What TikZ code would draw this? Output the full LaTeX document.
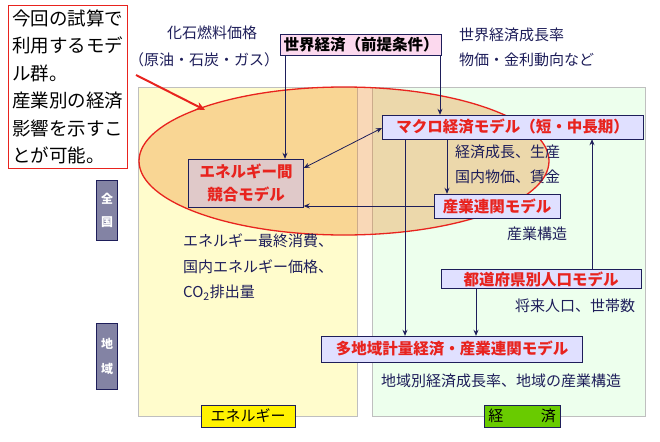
\documentclass[tikz,border=0pt]{standalone}
\usepackage{fontspec}
\setmainfont{Noto Sans CJK JP}
\usetikzlibrary{arrows.meta}
\definecolor{navy}{HTML}{1E1E5A}
\definecolor{mred}{HTML}{E8231E}
\begin{document}
\begin{tikzpicture}[x=1pt,y=-1pt,
  every node/.style={font=\fontsize{15}{17}\selectfont,text=navy,inner sep=1pt},
  lbl/.style={anchor=west},
  model/.style={draw=navy,fill=#1,text=mred,font=\fontsize{15.5}{23}\selectfont\bfseries,inner sep=2pt},
  arr/.style={draw=navy,-{Stealth[length=6pt,width=5pt]},line width=0.8pt},
  side/.style={draw=navy,fill=navy!55,text=white,font=\fontsize{12}{13}\selectfont\bfseries,minimum width=21pt,inner sep=2pt,align=center}]
\useasboundingbox (0,0) rectangle (660,441);
\fill[white] (0,0) rectangle (660,441);
% panels
\draw[gray!50,fill=yellow!20] (138,87) rectangle (357,416);
\draw[gray!50,fill=green!7] (372,87) rectangle (645,416);
% ellipse
\draw[mred,line width=1.3pt,fill=orange!70!brown,fill opacity=0.3] (344,161) ellipse (205 and 74);
% red note
\node[draw=mred,line width=0.8pt,fill=white,text=black,align=left,anchor=north west,inner sep=4pt,font=\fontsize{18.5}{27.5}\selectfont] (note) at (8,5)
{今回の試算で\\利用するモデ\\ル群。\\産業別の経済\\影響を示すこ\\とが可能。};
\coordinate (tip) at (205,110);
\draw[mred,line width=2pt,-{Stealth[length=9pt,width=8pt]}] (136,75) -- (tip);
% top
\node[draw=navy,fill=magenta!15,text=black,font=\fontsize{15.5}{18}\selectfont\bfseries,inner sep=3pt] (world) at (361,45) {世界経済（前提条件）};
\node (f1) at (212,33) {化石燃料価格};
\node (f2) at (204,60) {（原油・石炭・ガス）};
\node[lbl] (w1) at (458,35) {世界経済成長率};
\node[lbl] (w2) at (458,60) {物価・金利動向など};
% models
\node[model=pink!60!gray!60,align=center,minimum width=115pt,minimum height=48pt] (ene) at (246,183) {エネルギー間\\競合モデル};
\node[model=blue!12,anchor=west,minimum width=261pt,align=left,minimum height=24pt] (macro) at (382,127) {マクロ経済モデル（短・中長期）};
\node[model=blue!12,minimum width=126pt,minimum height=24pt] (io) at (497,206) {産業連関モデル};
\node[model=blue!12,minimum width=200pt,minimum height=19pt] (pref) at (541,279) {都道府県別人口モデル};
\node[model=blue!12,minimum width=261pt,minimum height=26pt] (multi) at (452,349) {多地域計量経済・産業連関モデル};
% texts
\node[lbl] (t1) at (454,152) {経済成長、生産};
\node[lbl] (t2) at (454,177) {国内物価、賃金};
\node[lbl] (t3) at (506,234) {産業構造};
\node[lbl] (t4) at (514,306) {将来人口、世帯数};
\node[lbl] (t5) at (380,381) {地域別経済成長率、地域の産業構造};
\node[lbl] (e1) at (182,241) {エネルギー最終消費、};
\node[lbl] (e2) at (182,267) {国内エネルギー価格、};
\node[lbl] (e3) at (182,293) {CO\textsubscript{2}排出量};
% bottom labels
\node[draw=navy,fill=yellow,text=black,minimum width=94pt,minimum height=22pt] (lab1) at (248,416) {エネルギー};
\node[draw=navy,fill=green!55!black!45!lime,text=black,minimum width=76pt,minimum height=22pt] (lab2) at (522,416) {経\hspace{2.5em}済};
% side
\node[side,minimum height=60pt] (zen) at (107,210) {全\\[10pt]国};
\node[side,minimum height=66pt] (chi) at (107,356) {地\\[12pt]域};
% arrows
\draw[arr] (world.south -| 285,0) -- (ene.north -| 285,0);
\draw[arr] (world.south -| 440,0) -- (macro.north -| 440,0);
\draw[arr,{Stealth[length=6pt,width=5pt]}-{Stealth[length=6pt,width=5pt]}] (ene.east |- 0,168) -- (macro.west |- 0,128);
\draw[arr] (io.west) -- (ene.east |- io.west);
\draw[arr] (macro.south -| 405,0) -- (multi.north -| 405,0);
\draw[arr] (macro.south -| 447,0) -- (io.north -| 447,0);
\draw[arr] (pref.north -| 592,0) -- (macro.south -| 592,0);
\draw[arr] (pref.south -| 476,0) -- (multi.north -| 476,0);
\end{tikzpicture}
\end{document}
